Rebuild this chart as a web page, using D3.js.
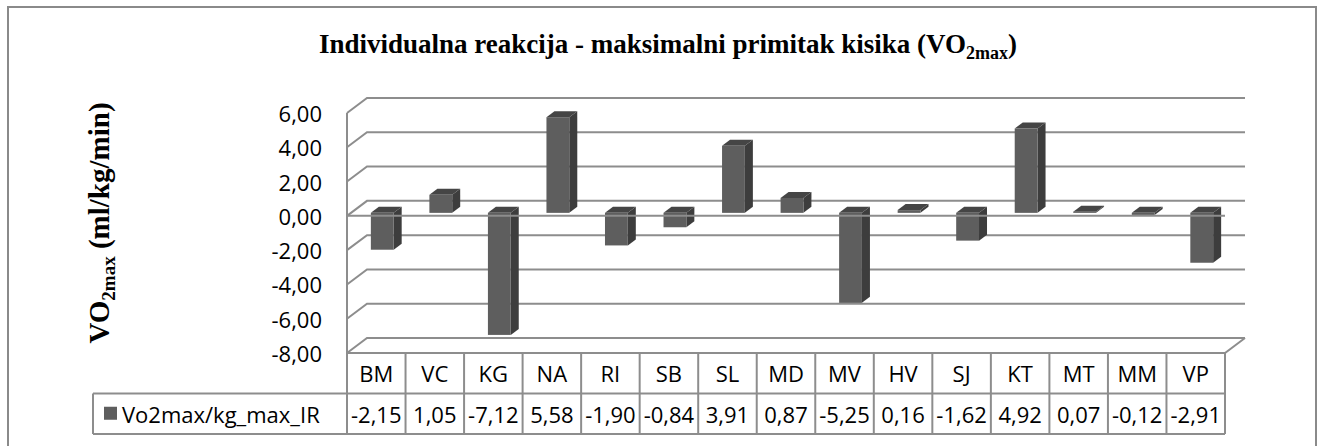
<!DOCTYPE html>
<meta charset="utf-8">
<script src="https://d3js.org/d3.v7.min.js"></script>
<style>
  body { margin: 0; background: #fff; }
  text { font-family: "Open Sans", sans-serif; fill: #000; }
  .serif { font-family: "Liberation Serif", "Times New Roman", serif; font-weight: bold; }
</style>
<div id="chart"></div>
<script>
  var categories = ["BM", "VC", "KG", "NA", "RI", "SB", "SL", "MD", "MV", "HV", "SJ", "KT", "MT", "MM", "VP"];
  var values = [-2.15, 1.05, -7.12, 5.58, -1.90, -0.84, 3.91, 0.87, -5.25, 0.16, -1.62, 4.92, 0.07, -0.12, -2.91];
  var yTicks = [-8, -6, -4, -2, 0, 2, 4, 6];
  var seriesName = "Vo2max/kg_max_IR";

  var width = 1321, height = 446;
  var plot = {left: 347, right: 1225, top: 113, bottom: 353};
  var depthX = 20, depthY = 15;
  var rowH = 40.5;
  var gridColor = "#8d8d8d";

  var svg = d3.select("#chart")
    .append("svg")
      .attr("width", width)
      .attr("height", height);

  var x = d3.scaleBand()
    .domain(categories)
    .range([plot.left, plot.right]);

  var y = d3.scaleLinear()
    .domain([-8, 6])
    .range([plot.bottom, plot.top]);

  var locale = d3.formatLocale({decimal: ",", thousands: ".", grouping: [3], currency: ["", ""], minus: "-"});
  var fmt = locale.format(".2f");

  // outer frame
  svg.append("rect")
    .attr("x", 8).attr("y", 7)
    .attr("width", 1308).attr("height", 445)
    .attr("fill", "none")
    .attr("stroke", "#8a8a8a")
    .attr("stroke-width", 2);

  // title
  var title = svg.append("text")
    .attr("class", "serif")
    .attr("x", 668)
    .attr("y", 53)
    .attr("text-anchor", "middle")
    .style("font-size", "27px");
  title.append("tspan").text("Individualna reakcija - maksimalni primitak kisika (VO");
  title.append("tspan").text("2max").style("font-size", "18px").attr("dy", 6);
  title.append("tspan").text(")").attr("dy", -6);

  // y axis title
  var ytitle = svg.append("text")
    .attr("class", "serif")
    .attr("transform", "translate(109,223) rotate(-90)")
    .attr("text-anchor", "middle")
    .style("font-size", "29px");
  ytitle.append("tspan").text("VO");
  ytitle.append("tspan").text("2max").style("font-size", "19px").attr("dy", 6);
  ytitle.append("tspan").text(" (ml/kg/min)").attr("dy", -6);

  // gridlines: side wall diagonal + back wall line
  svg.append("g")
    .selectAll("path")
    .data(yTicks)
    .enter()
    .append("path")
      .attr("fill", "none")
      .attr("stroke", gridColor)
      .attr("stroke-width", 2)
      .attr("d", function(d) {
        return "M" + plot.left + "," + y(d) +
               "L" + (plot.left + depthX) + "," + (y(d) - depthY) +
               "L" + (plot.right + depthX) + "," + (y(d) - depthY);
      });

  // floor front edge + right diagonal
  svg.append("path")
    .attr("fill", "none")
    .attr("stroke", gridColor)
    .attr("stroke-width", 2)
    .attr("d", "M" + plot.left + "," + y(-8) + "L" + plot.right + "," + y(-8) +
               "L" + (plot.right + depthX) + "," + (y(-8) - depthY));

  // y tick labels
  svg.append("g")
    .selectAll("text")
    .data(yTicks)
    .enter()
    .append("text")
      .attr("x", 322)
      .attr("y", function(d) { return y(d); })
      .attr("text-anchor", "end")
      .attr("dominant-baseline", "central")
      .style("font-size", "22px")
      .text(function(d) { return fmt(d); });

  // 3d bars
  var barW = x.bandwidth() * 0.39;
  var z0 = 0.2, z1 = 0.6;
  var bars = svg.append("g")
    .selectAll("g")
    .data(values)
    .enter()
    .append("g");

  function xl(i) { return x(categories[i]) + x.bandwidth() / 2 + 2 - barW / 2; }

  bars.append("path")   // side
    .attr("fill", "#3d3d3d")
    .attr("d", function(d, i) {
      var xr = xl(i) + barW, yt = y(Math.max(0, d)), yb = y(Math.min(0, d));
      return "M" + (xr + z0 * depthX) + "," + (yt - z0 * depthY) +
             "L" + (xr + z1 * depthX) + "," + (yt - z1 * depthY) +
             "L" + (xr + z1 * depthX) + "," + (yb - z1 * depthY) +
             "L" + (xr + z0 * depthX) + "," + (yb - z0 * depthY) + "Z";
    });
  bars.append("path")   // top
    .attr("fill", "#454545")
    .attr("d", function(d, i) {
      var a = xl(i), b = a + barW, yt = y(Math.max(0, d));
      return "M" + (a + z0 * depthX) + "," + (yt - z0 * depthY) +
             "L" + (b + z0 * depthX) + "," + (yt - z0 * depthY) +
             "L" + (b + z1 * depthX) + "," + (yt - z1 * depthY) +
             "L" + (a + z1 * depthX) + "," + (yt - z1 * depthY) + "Z";
    });
  bars.append("rect")   // front
    .attr("fill", "#5e5e5e")
    .attr("x", function(d, i) { return xl(i) + z0 * depthX; })
    .attr("y", function(d) { return y(Math.max(0, d)) - z0 * depthY; })
    .attr("width", barW)
    .attr("height", function(d) { return Math.abs(y(d) - y(0)); });

  // front zero line over the bars
  svg.append("line")
    .attr("x1", plot.left).attr("x2", plot.right)
    .attr("y1", y(0)).attr("y2", y(0))
    .attr("stroke", gridColor)
    .attr("stroke-width", 2);

  // left front edge down to the table bottom
  var tableTop = y(-8), tableBottom = tableTop + 2 * rowH;
  svg.append("line")
    .attr("x1", plot.left).attr("x2", plot.left)
    .attr("y1", y(6)).attr("y2", tableBottom)
    .attr("stroke", gridColor)
    .attr("stroke-width", 2);

  // data table
  var table = svg.append("g")
    .attr("stroke", gridColor)
    .attr("stroke-width", 2);
  table.append("line")
    .attr("x1", 93).attr("x2", plot.right)
    .attr("y1", tableTop + rowH).attr("y2", tableTop + rowH);
  table.append("line")
    .attr("x1", 93).attr("x2", plot.right)
    .attr("y1", tableBottom).attr("y2", tableBottom);
  table.append("line")
    .attr("x1", 93).attr("x2", 93)
    .attr("y1", tableTop + rowH).attr("y2", tableBottom);
  table.selectAll(".col")
    .data(categories)
    .enter()
    .append("line")
      .attr("x1", function(d) { return x(d) + x.bandwidth(); })
      .attr("x2", function(d) { return x(d) + x.bandwidth(); })
      .attr("y1", tableTop)
      .attr("y2", tableBottom);

  svg.append("g")
    .selectAll("text")
    .data(categories)
    .enter()
    .append("text")
      .attr("x", function(d) { return x(d) + x.bandwidth() / 2; })
      .attr("y", tableTop + rowH / 2)
      .attr("text-anchor", "middle")
      .attr("dominant-baseline", "central")
      .style("font-size", "22px")
      .text(function(d) { return d; });

  svg.append("g")
    .selectAll("text")
    .data(values)
    .enter()
    .append("text")
      .attr("x", function(d, i) { return x(categories[i]) + x.bandwidth() / 2; })
      .attr("y", tableTop + rowH * 1.5)
      .attr("text-anchor", "middle")
      .attr("dominant-baseline", "central")
      .style("font-size", "22px")
      .text(function(d) { return fmt(d); });

  // legend key
  svg.append("rect")
    .attr("x", 104).attr("y", tableTop + rowH * 1.5 - 7)
    .attr("width", 13).attr("height", 13)
    .attr("fill", "#5e5e5e");
  svg.append("text")
    .attr("x", 122)
    .attr("y", tableTop + rowH * 1.5)
    .attr("dominant-baseline", "central")
    .style("font-size", "22px")
    .text(seriesName);
</script>
